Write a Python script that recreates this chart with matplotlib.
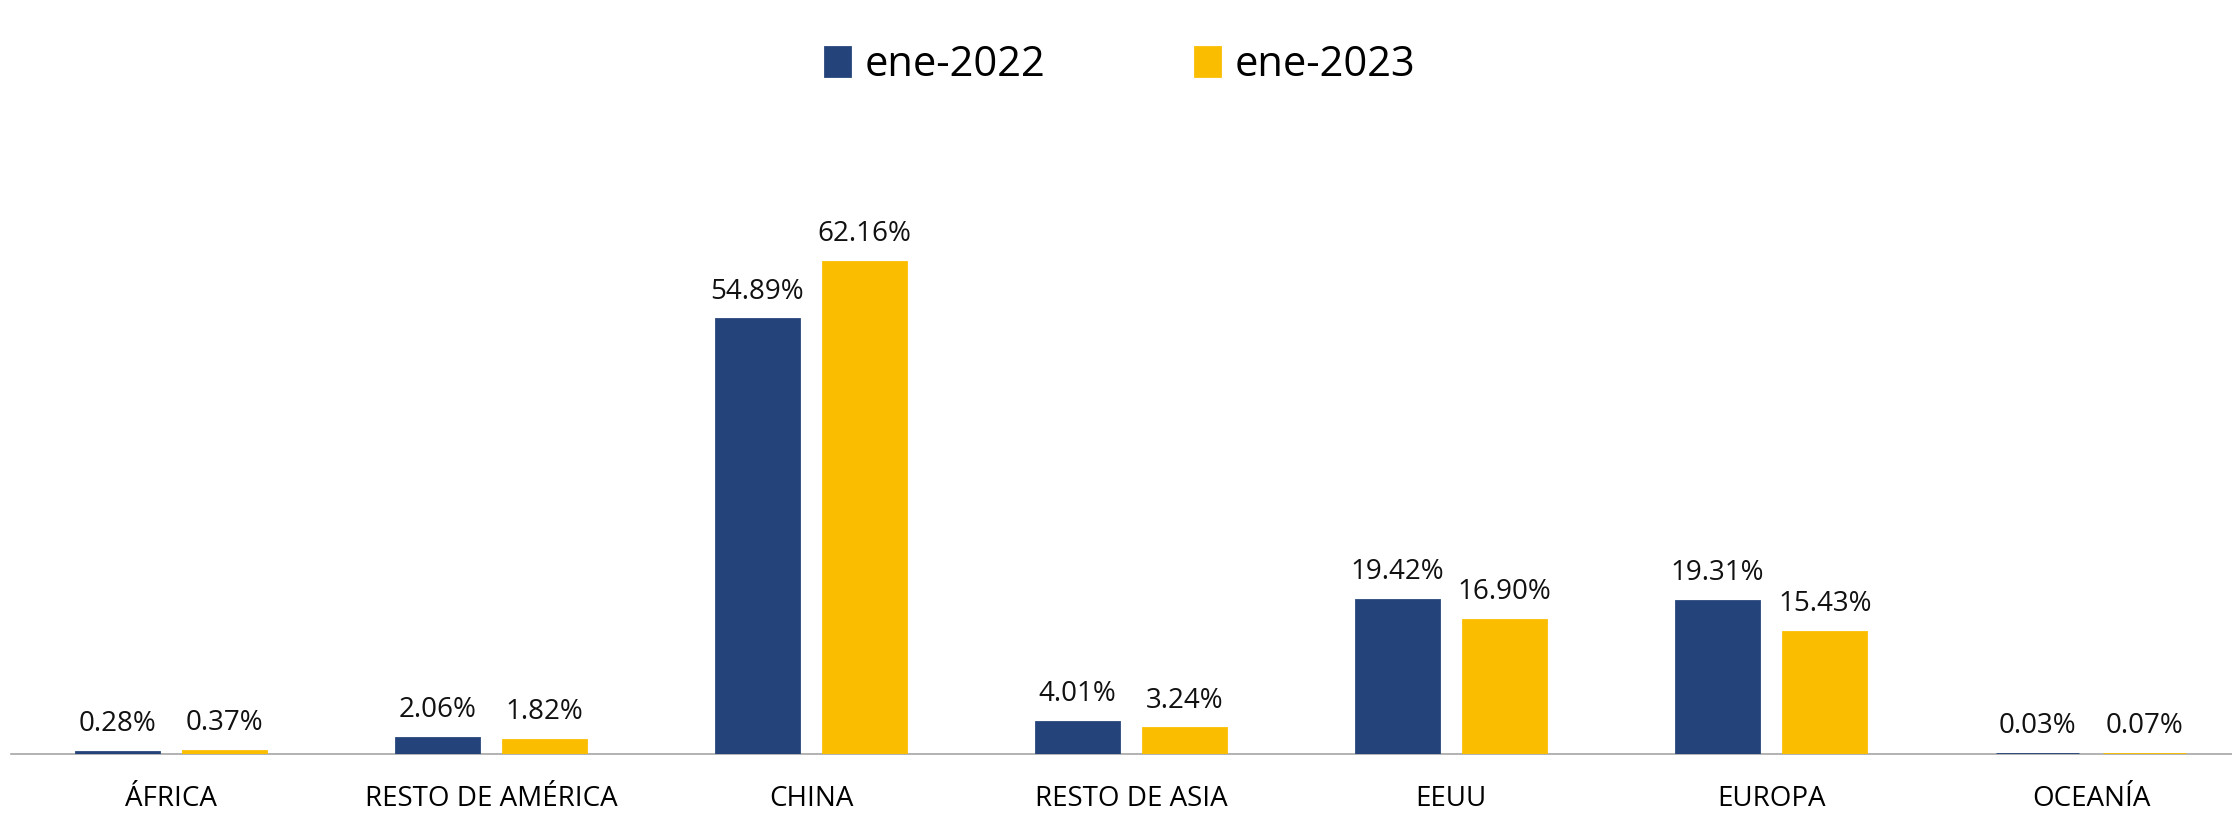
import numpy as np
import matplotlib.pyplot as plt

# datos
regiones = ['ÁFRICA', 'RESTO DE AMÉRICA', 'CHINA', 'RESTO DE ASIA', 'EEUU', 'EUROPA', 'OCEANÍA']
ene_2022 = [0.28, 2.06, 54.89, 4.01, 19.42, 19.31, 0.03]
ene_2023 = [0.37, 1.82, 62.16, 3.24, 16.90, 15.43, 0.07]
series = ['ene-2022', 'ene-2023']

azul = '#23437a'
amarillo = '#fbbd00'

plt.rcParams['font.family'] = ['Open Sans', 'DejaVu Sans']

fig = plt.figure(figsize=(22.32, 8.36), dpi=100)
ax = fig.add_axes([11 / 2232, 0.098, 2240 / 2232, 0.663])

x = np.arange(len(regiones))
ancho = 0.26
desp = 0.168

# barras por encima del eje para que se vean las muy pequeñas
b1 = ax.bar(x - desp, ene_2022, ancho, color=azul, edgecolor=azul, linewidth=2,
            label=series[0], zorder=3)
b2 = ax.bar(x + desp, ene_2023, ancho, color=amarillo, edgecolor=amarillo, linewidth=2,
            label=series[1], zorder=3)

for barras, vals in ((b1, ene_2022), (b2, ene_2023)):
    for b, v in zip(barras, vals):
        ax.annotate(f'{v:.2f}%', (b.get_x() + b.get_width() / 2, v),
                    xytext=(0, 10), textcoords='offset points',
                    ha='center', va='bottom', fontsize=20, color='#111111')

ax.set_xlim(-0.5, len(regiones) - 0.5)
ax.set_ylim(0, 70)
ax.set_xticks(x)
ax.set_xticklabels(regiones, fontsize=20)
ax.tick_params(axis='x', length=0, pad=22)
ax.set_yticks([])
for s in ['top', 'right', 'left']:
    ax.spines[s].set_visible(False)
ax.spines['bottom'].set_color('#a6a6a6')
ax.spines['bottom'].set_linewidth(1.2)

fig.legend(handles=[b1, b2], labels=series, loc='center', bbox_to_anchor=(0.502, 0.922),
           ncol=2, frameon=False, fontsize=30, handlelength=0.6, handleheight=0.7,
           handletextpad=0.35, columnspacing=3.6)

fig.savefig('out.png', dpi=100)
